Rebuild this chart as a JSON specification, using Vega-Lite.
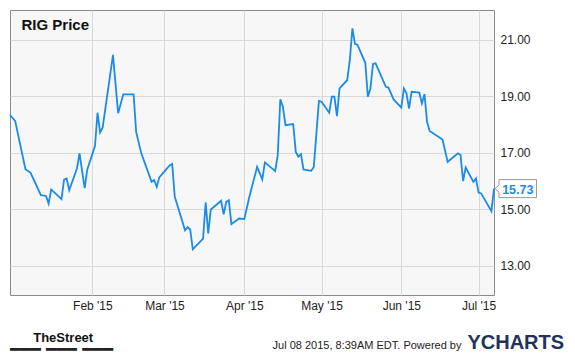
{
  "$schema": "https://vega.github.io/schema/vega-lite/v6.json",
  "width": 484,
  "height": 285,
  "autosize": {"type": "none"},
  "padding": {"left": 10, "top": 10, "right": 81, "bottom": 63},
  "background": "white",
  "config": {"view": {"fill": "#f7f7f7", "stroke": "#8a8a8a", "strokeWidth": 1}},
  "title": {"text": "━━━ ━━━ ━━━", "anchor": "start", "frame": "group", "orient": "bottom", "offset": 0, "baseline": "middle", "dx": 0, "dy": -2, "fontSize": 17, "font": "DejaVu Sans", "fontWeight": "normal", "color": "#222222"},
  "data": {"values": [
    {"date": "2014-12-31", "price": 18.34},
    {"date": "2015-01-02", "price": 18.13},
    {"date": "2015-01-06", "price": 16.42},
    {"date": "2015-01-08", "price": 16.29},
    {"date": "2015-01-12", "price": 15.50},
    {"date": "2015-01-14", "price": 15.47},
    {"date": "2015-01-15", "price": 15.20},
    {"date": "2015-01-16", "price": 15.70},
    {"date": "2015-01-20", "price": 15.36},
    {"date": "2015-01-21", "price": 16.05},
    {"date": "2015-01-22", "price": 16.09},
    {"date": "2015-01-23", "price": 15.67},
    {"date": "2015-01-26", "price": 16.44},
    {"date": "2015-01-27", "price": 16.98},
    {"date": "2015-01-29", "price": 15.75},
    {"date": "2015-01-30", "price": 16.40},
    {"date": "2015-02-02", "price": 17.24},
    {"date": "2015-02-03", "price": 18.42},
    {"date": "2015-02-04", "price": 17.72},
    {"date": "2015-02-05", "price": 17.90},
    {"date": "2015-02-09", "price": 20.47},
    {"date": "2015-02-11", "price": 18.40},
    {"date": "2015-02-13", "price": 19.07},
    {"date": "2015-02-17", "price": 19.07},
    {"date": "2015-02-18", "price": 17.74},
    {"date": "2015-02-20", "price": 16.98},
    {"date": "2015-02-24", "price": 15.97},
    {"date": "2015-02-25", "price": 16.03},
    {"date": "2015-02-26", "price": 15.79},
    {"date": "2015-02-27", "price": 16.13},
    {"date": "2015-03-02", "price": 16.45},
    {"date": "2015-03-03", "price": 16.55},
    {"date": "2015-03-04", "price": 16.60},
    {"date": "2015-03-05", "price": 15.44},
    {"date": "2015-03-09", "price": 14.25},
    {"date": "2015-03-10", "price": 14.37},
    {"date": "2015-03-11", "price": 14.28},
    {"date": "2015-03-12", "price": 13.58},
    {"date": "2015-03-16", "price": 13.96},
    {"date": "2015-03-17", "price": 15.24},
    {"date": "2015-03-18", "price": 14.14},
    {"date": "2015-03-19", "price": 14.99},
    {"date": "2015-03-23", "price": 15.30},
    {"date": "2015-03-24", "price": 14.82},
    {"date": "2015-03-25", "price": 15.26},
    {"date": "2015-03-26", "price": 15.32},
    {"date": "2015-03-27", "price": 14.47},
    {"date": "2015-03-30", "price": 14.67},
    {"date": "2015-04-01", "price": 14.65},
    {"date": "2015-04-03", "price": 15.45},
    {"date": "2015-04-06", "price": 16.50},
    {"date": "2015-04-08", "price": 16.06},
    {"date": "2015-04-09", "price": 16.66},
    {"date": "2015-04-13", "price": 16.35},
    {"date": "2015-04-14", "price": 16.92},
    {"date": "2015-04-15", "price": 18.90},
    {"date": "2015-04-16", "price": 18.63},
    {"date": "2015-04-17", "price": 17.98},
    {"date": "2015-04-20", "price": 18.02},
    {"date": "2015-04-21", "price": 17.03},
    {"date": "2015-04-22", "price": 16.86},
    {"date": "2015-04-23", "price": 16.95},
    {"date": "2015-04-24", "price": 16.41},
    {"date": "2015-04-27", "price": 16.36},
    {"date": "2015-04-28", "price": 16.50},
    {"date": "2015-04-30", "price": 18.84},
    {"date": "2015-05-01", "price": 18.81},
    {"date": "2015-05-04", "price": 18.42},
    {"date": "2015-05-05", "price": 18.99},
    {"date": "2015-05-06", "price": 18.99},
    {"date": "2015-05-07", "price": 18.30},
    {"date": "2015-05-08", "price": 19.28},
    {"date": "2015-05-11", "price": 19.58},
    {"date": "2015-05-12", "price": 20.29},
    {"date": "2015-05-13", "price": 21.41},
    {"date": "2015-05-14", "price": 20.86},
    {"date": "2015-05-15", "price": 20.82},
    {"date": "2015-05-18", "price": 20.19},
    {"date": "2015-05-19", "price": 18.99},
    {"date": "2015-05-20", "price": 19.28},
    {"date": "2015-05-21", "price": 20.15},
    {"date": "2015-05-22", "price": 20.17},
    {"date": "2015-05-26", "price": 19.34},
    {"date": "2015-05-27", "price": 19.31},
    {"date": "2015-05-29", "price": 18.89},
    {"date": "2015-06-01", "price": 18.60},
    {"date": "2015-06-02", "price": 19.28},
    {"date": "2015-06-03", "price": 19.11},
    {"date": "2015-06-04", "price": 18.57},
    {"date": "2015-06-05", "price": 19.16},
    {"date": "2015-06-08", "price": 19.13},
    {"date": "2015-06-09", "price": 18.75},
    {"date": "2015-06-10", "price": 19.08},
    {"date": "2015-06-11", "price": 18.10},
    {"date": "2015-06-12", "price": 17.77},
    {"date": "2015-06-17", "price": 17.47},
    {"date": "2015-06-19", "price": 16.68},
    {"date": "2015-06-23", "price": 16.98},
    {"date": "2015-06-24", "price": 16.92},
    {"date": "2015-06-25", "price": 16.00},
    {"date": "2015-06-26", "price": 16.48},
    {"date": "2015-06-29", "price": 15.97},
    {"date": "2015-06-30", "price": 16.09},
    {"date": "2015-07-01", "price": 15.59},
    {"date": "2015-07-02", "price": 15.56},
    {"date": "2015-07-06", "price": 14.93},
    {"date": "2015-07-07", "price": 15.73}
  ]},
  "layer": [
    {
      "mark": {"type": "line", "color": "#1a8be8", "strokeWidth": 1.8},
      "encoding": {
        "x": {
          "field": "date", "type": "temporal",
          "scale": {"type": "utc", "domain": [{"year": 2014, "month": 12, "date": 31, "utc": true}, {"year": 2015, "month": 7, "date": 7, "utc": true}]},
          "axis": {
            "orient": "bottom",
            "values": [
              {"year": 2015, "month": 2, "date": 1, "utc": true},
              {"year": 2015, "month": 3, "date": 1, "utc": true},
              {"year": 2015, "month": 4, "date": 1, "utc": true},
              {"year": 2015, "month": 5, "date": 1, "utc": true},
              {"year": 2015, "month": 6, "date": 1, "utc": true},
              {"year": 2015, "month": 7, "date": 1, "utc": true}
            ],
            "format": "%b '%y",
            "grid": true, "gridColor": "#d9d9d9", "gridWidth": 1,
            "ticks": false, "domain": false,
            "labelFont": "Liberation Sans", "labelFontSize": 12, "labelColor": "#222222", "labelPadding": 5,
            "labelFlush": false, "labelOverlap": false,
            "title": "Jul 08 2015, 8:39AM EDT.  Powered by",
            "titleX": 451, "titleY": 53, "titleAlign": "right", "titleBaseline": "alphabetic",
            "titleFont": "Liberation Sans", "titleFontSize": 11, "titleFontWeight": "normal", "titleColor": "#222222"
          }
        },
        "y": {
          "field": "price", "type": "quantitative",
          "scale": {"domain": [11.96, 22.06], "nice": false, "zero": false},
          "axis": {
            "orient": "right",
            "values": [13, 15, 17, 19, 21],
            "format": ".2f",
            "grid": true, "gridColor": "#d9d9d9", "gridWidth": 1,
            "ticks": false, "domain": false,
            "labelFont": "Liberation Sans", "labelFontSize": 12, "labelColor": "#222222", "labelPadding": 6,
            "title": "YCHARTS", "titleAngle": 0, "titleX": 69.6, "titleY": 338,
            "titleAlign": "right", "titleBaseline": "alphabetic",
            "titleFont": "Liberation Sans", "titleFontSize": 20, "titleFontWeight": "bold", "titleColor": "#22335a"
          }
        }
      }
    },
    {
      "transform": [{"filter": "datum.price === 15.73"}],
      "mark": {"type": "point", "shape": "M0.1,0 L0.5,-0.35 L0.5,-0.9 L4.25,-0.9 L4.25,0.9 L0.5,0.9 L0.5,0.35 Z", "size": 400, "filled": true, "fill": "white", "stroke": "#9a9a9a", "strokeWidth": 1, "opacity": 1},
      "encoding": {
        "x": {
          "field": "date", "type": "temporal",
          "axis": {
            "orient": "top", "labels": false, "ticks": false, "domain": false, "grid": false,
            "title": "RIG Price", "titleX": 11, "titleY": 19, "titleAlign": "left", "titleBaseline": "alphabetic",
            "titleFont": "Liberation Sans", "titleFontSize": 15, "titleFontWeight": "bold", "titleColor": "#111111"
          }
        },
        "y": {"field": "price", "type": "quantitative", "axis": null}
      }
    },
    {
      "transform": [{"filter": "datum.price === 15.73"}],
      "mark": {"type": "text", "dx": 23.8, "dy": 1, "align": "center", "baseline": "middle", "font": "Liberation Sans", "fontWeight": "bold", "fontSize": 12.5, "color": "#1a8be8"},
      "encoding": {
        "x": {"field": "date", "type": "temporal", "axis": null},
        "y": {
          "field": "price", "type": "quantitative",
          "axis": {
            "orient": "left", "labels": false, "ticks": false, "domain": false, "grid": false,
            "title": "TheStreet", "titleAngle": 0, "titleX": 52.7, "titleY": 331,
            "titleAlign": "center", "titleBaseline": "alphabetic",
            "titleFont": "Liberation Sans", "titleFontSize": 13, "titleFontWeight": "bold", "titleColor": "#111111"
          }
        },
        "text": {"field": "price", "type": "quantitative", "format": ".2f"}
      }
    }
  ],
  "resolve": {"axis": {"x": "independent", "y": "independent"}}
}
